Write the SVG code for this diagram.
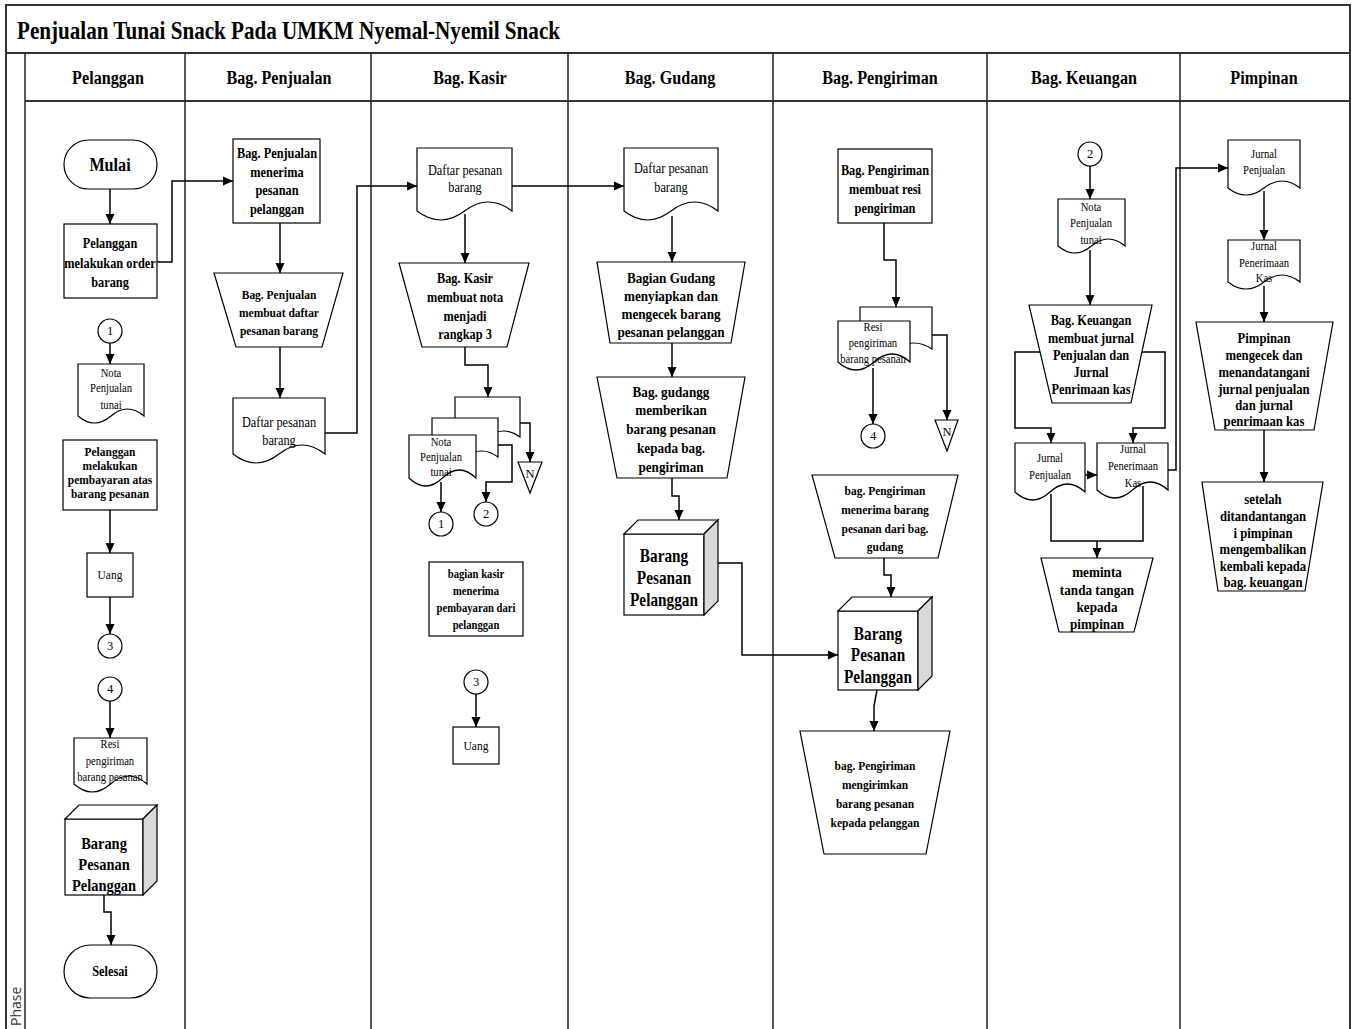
<svg xmlns="http://www.w3.org/2000/svg" width="1354" height="1029" viewBox="0 0 1354 1029">
  <style>
    .frame { fill: none; stroke: #333; stroke-width: 2; }
    .lane { fill: none; stroke: #222; stroke-width: 1.5; }
    .shape { fill: #fff; stroke: #000; stroke-width: 1.2; }
    .side { fill: #d9d9d9; stroke: #000; stroke-width: 1.2; }
    .cn { fill: none; stroke: #000; stroke-width: 1.5; }
    .ar { marker-end: url(#ah); }
    text { fill: #000; }
    .b { font-family: "Liberation Serif", "Times New Roman", serif; font-weight: bold; text-anchor: middle; }
    .r { font-family: "Liberation Serif", "Times New Roman", serif; text-anchor: middle; }
    .f12 { font-size: 12.5px; }
    .f13 { font-size: 13.5px; }
    .f14 { font-size: 14.5px; }
    .f15 { font-size: 15.5px; }
    .f17 { font-size: 17px; }
    .f18 { font-size: 18px; }
    .f19 { font-size: 19px; }
    .hd { font-size: 19px; }
  </style>
  <defs>
    <marker id="ah" markerWidth="10" markerHeight="10" refX="10" refY="5" orient="auto" markerUnits="userSpaceOnUse">
      <path d="M0,0.5 L10,5 L0,9.5 Z" fill="#000"/>
    </marker>
  </defs>

  <rect width="1354" height="1029" fill="#fff"/>

  <!-- pool frame, title band, lane header row -->
  <g id="pool">
    <path class="frame" d="M6,1029 V5 H1350 V1029"/>
    <path class="frame" d="M6,53 H1350"/>
    <path class="lane" d="M25,53 V1029"/>
    <path class="frame" d="M25,101 H1350" stroke="#555"/>
    <path class="lane" d="M185,53 V1029 M371,53 V1029 M568,53 V1029 M773,53 V1029 M987,53 V1029 M1180,53 V1029"/>
    <text class="b" x="17" y="39" style="font-size:25px;text-anchor:start" textLength="543" lengthAdjust="spacingAndGlyphs">Penjualan Tunai Snack Pada UMKM Nyemal-Nyemil Snack</text>
    <text transform="translate(21,1026) rotate(-90)" style="font-family:'Open Sans','DejaVu Sans',sans-serif;font-size:14px;fill:#333">Phase</text>
    <text class="b hd" transform="matrix(.85 0 0 1 108 0)"><tspan x="0" y="84">Pelanggan</tspan></text>
    <text class="b hd" transform="matrix(.85 0 0 1 279 0)"><tspan x="0" y="84">Bag. Penjualan</tspan></text>
    <text class="b hd" transform="matrix(.85 0 0 1 470 0)"><tspan x="0" y="84">Bag. Kasir</tspan></text>
    <text class="b hd" transform="matrix(.85 0 0 1 670 0)"><tspan x="0" y="84">Bag. Gudang</tspan></text>
    <text class="b hd" transform="matrix(.85 0 0 1 880 0)"><tspan x="0" y="84">Bag. Pengiriman</tspan></text>
    <text class="b hd" transform="matrix(.85 0 0 1 1084 0)"><tspan x="0" y="84">Bag. Keuangan</tspan></text>
    <text class="b hd" transform="matrix(.85 0 0 1 1264 0)"><tspan x="0" y="84">Pimpinan</tspan></text>
  </g>

  <!-- connectors -->
  <g id="connectors">
    <path class="cn ar" d="M110,189 V224"/>
    <path class="cn ar" d="M157,262 H172 V181 H233"/>
    <path class="cn ar" d="M110,343 V364"/>
    <path class="cn ar" d="M110,510 V553"/>
    <path class="cn ar" d="M110,597 V634"/>
    <path class="cn ar" d="M110,701 V738"/>
    <path class="cn ar" d="M104,895 V912 H111 V945"/>
    <path class="cn ar" d="M280,223 V273"/>
    <path class="cn ar" d="M280,347 V398"/>
    <path class="cn ar" d="M325,433 H357 V186 H417"/>
    <path class="cn ar" d="M512,186 H624"/>
    <path class="cn ar" d="M465,214 V263"/>
    <path class="cn ar" d="M465,347 V365 H488 V397"/>
    <path class="cn ar" d="M520,423 H530 V462"/>
    <path class="cn ar" d="M498,445 H512 V482 H486 V502"/>
    <path class="cn ar" d="M441,482 V512"/>
    <path class="cn ar" d="M476,694 V727"/>
    <path class="cn ar" d="M672,216 V262"/>
    <path class="cn ar" d="M672,343 V377"/>
    <path class="cn ar" d="M672,478 V496 H679 V520"/>
    <path class="cn ar" d="M718,563 H742 V655 H838"/>
    <path class="cn ar" d="M884,223 V260 H896 V307"/>
    <path class="cn ar" d="M932,335 H947 V420"/>
    <path class="cn ar" d="M873,368 V424"/>
    <path class="cn ar" d="M884,558 V575 H891 V597"/>
    <path class="cn ar" d="M877,690 L874,706 V731"/>
    <path class="cn ar" d="M1090,166 V199"/>
    <path class="cn ar" d="M1090,250 V305"/>
    <path class="cn ar" d="M1040,352 H1015 V428 H1051 V443"/>
    <path class="cn ar" d="M1141,352 H1165 V428 H1133 V443"/>
    <path class="cn ar" d="M1085,475 H1097"/>
    <path class="cn ar" d="M1168,470 H1176 V168 H1228"/>
    <path class="cn" d="M1051,494 V541 H1143 V486"/>
    <path class="cn ar" d="M1097,541 V558"/>
    <path class="cn ar" d="M1264,191 V240"/>
    <path class="cn ar" d="M1264,286 V322"/>
    <path class="cn ar" d="M1264,430 V482"/>
  </g>

  <!-- Pelanggan -->
  <g id="mulai">
    <rect class="shape" x="64" y="140" width="93" height="49" rx="24.5"/>
    <text class="b f19" transform="matrix(.85 0 0 1 110 0)"><tspan x="0" y="171">Mulai</tspan></text>
  </g>
  <g id="order">
    <rect class="shape" x="64" y="224" width="93" height="74"/>
    <text class="b f14" transform="matrix(.85 0 0 1 110 0)"><tspan x="0" y="248">Pelanggan</tspan><tspan x="0" y="268">melakukan order</tspan><tspan x="0" y="287">barang</tspan></text>
  </g>
  <g id="p-c1">
    <circle class="shape" cx="110" cy="331" r="12"/>
    <text class="r f12" x="110" y="335">1</text>
  </g>
  <g id="p-nota">
    <path class="shape" d="M78,364 H144 V416 Q127.5,402 111,416 T78,416 Z"/>
    <text class="r f12" transform="matrix(.85 0 0 1 111 0)"><tspan x="0" y="377">Nota</tspan><tspan x="0" y="392">Penjualan</tspan><tspan x="0" y="409">tunai</tspan></text>
  </g>
  <g id="bayar">
    <rect class="shape" x="63" y="440" width="94" height="70"/>
    <text class="b f13" transform="matrix(.85 0 0 1 110 0)"><tspan x="0" y="456">Pelanggan</tspan><tspan x="0" y="470">melakukan</tspan><tspan x="0" y="484">pembayaran atas</tspan><tspan x="0" y="498">barang pesanan</tspan></text>
  </g>
  <g id="p-uang">
    <rect class="shape" x="87" y="553" width="46" height="44"/>
    <text class="r f13" transform="matrix(.85 0 0 1 110 0)"><tspan x="0" y="579">Uang</tspan></text>
  </g>
  <g id="p-c3">
    <circle class="shape" cx="110" cy="646" r="12"/>
    <text class="r f12" x="110" y="650">3</text>
  </g>
  <g id="p-c4">
    <circle class="shape" cx="110" cy="689" r="12"/>
    <text class="r f12" x="110" y="693">4</text>
  </g>
  <g id="p-resi">
    <path class="shape" d="M74,738 H147 V784 Q128.75,768 110.5,784 T74,784 Z"/>
    <text class="r f12" transform="matrix(.85 0 0 1 110 0)"><tspan x="0" y="748">Resi</tspan><tspan x="0" y="765">pengiriman</tspan><tspan x="0" y="781">barang pesanan</tspan></text>
  </g>
  <g id="p-barang">
    <rect class="shape" x="65" y="819" width="78" height="76"/>
    <path class="shape" d="M65,819 L79,805 H157 L143,819 Z"/>
    <path class="side" d="M143,819 L157,805 V881 L143,895 Z"/>
    <text class="b f17" transform="matrix(.85 0 0 1 104 0)"><tspan x="0" y="849">Barang</tspan><tspan x="0" y="870">Pesanan</tspan><tspan x="0" y="891">Pelanggan</tspan></text>
  </g>
  <g id="selesai">
    <rect class="shape" x="64" y="945" width="93" height="53" rx="26.5"/>
    <text class="b f14" transform="matrix(.85 0 0 1 110 0)"><tspan x="0" y="976">Selesai</tspan></text>
  </g>

  <!-- Bag. Penjualan -->
  <g id="pj-terima">
    <rect class="shape" x="233" y="139" width="87" height="84"/>
    <text class="b f14" transform="matrix(.85 0 0 1 277 0)"><tspan x="0" y="158">Bag. Penjualan</tspan><tspan x="0" y="177">menerima</tspan><tspan x="0" y="195">pesanan</tspan><tspan x="0" y="214">pelanggan</tspan></text>
  </g>
  <g id="pj-buat">
    <path class="shape" d="M214,273 H343 L322,347 H236 Z"/>
    <text class="b f13" transform="matrix(.85 0 0 1 279 0)"><tspan x="0" y="299">Bag. Penjualan</tspan><tspan x="0" y="317">membuat daftar</tspan><tspan x="0" y="335">pesanan barang</tspan></text>
  </g>
  <g id="pj-daftar">
    <path class="shape" d="M233,398 H325 V454 Q302,436 279,454 T233,454 Z"/>
    <text class="r f14" transform="matrix(.85 0 0 1 279 0)"><tspan x="0" y="427">Daftar pesanan</tspan><tspan x="0" y="445">barang</tspan></text>
  </g>

  <!-- Bag. Kasir -->
  <g id="ks-daftar">
    <path class="shape" d="M417,148 H512 V211 Q488.25,193 464.5,211 T417,211 Z"/>
    <text class="r f14" transform="matrix(.85 0 0 1 465 0)"><tspan x="0" y="175">Daftar pesanan</tspan><tspan x="0" y="192">barang</tspan></text>
  </g>
  <g id="ks-nota">
    <path class="shape" d="M399,263 H529 L507,347 H422 Z"/>
    <text class="b f14" transform="matrix(.85 0 0 1 465 0)"><tspan x="0" y="283">Bag. Kasir</tspan><tspan x="0" y="302">membuat nota</tspan><tspan x="0" y="321">menjadi</tspan><tspan x="0" y="339">rangkap 3</tspan></text>
  </g>
  <g id="ks-rangkap">
    <path class="shape" d="M455,397 H520 V437 Q503.75,425 487.5,437 T455,437 Z"/>
    <path class="shape" d="M432,418 H498 V457 Q481.5,445 465,457 T432,457 Z"/>
    <path class="shape" d="M409,435 H476 V478 Q459.25,462 442.5,478 T409,478 Z"/>
    <text class="r f12" transform="matrix(.85 0 0 1 441 0)"><tspan x="0" y="446">Nota</tspan><tspan x="0" y="461">Penjualan</tspan><tspan x="0" y="476">tunai</tspan></text>
  </g>
  <g id="ks-arsip">
    <path class="shape" d="M518,462 H542 L530,493 Z"/>
    <text class="r f12" x="530" y="478">N</text>
  </g>
  <g id="ks-c1">
    <circle class="shape" cx="441" cy="524" r="12"/>
    <text class="r f12" x="441" y="528">1</text>
  </g>
  <g id="ks-c2">
    <circle class="shape" cx="486" cy="514" r="12"/>
    <text class="r f12" x="486" y="518">2</text>
  </g>
  <g id="ks-terima">
    <rect class="shape" x="429" y="562" width="94" height="74"/>
    <text class="b f12" transform="matrix(.85 0 0 1 476 0)"><tspan x="0" y="578">bagian kasir</tspan><tspan x="0" y="595">menerima</tspan><tspan x="0" y="612">pembayaran dari</tspan><tspan x="0" y="629">pelanggan</tspan></text>
  </g>
  <g id="ks-c3">
    <circle class="shape" cx="476" cy="682" r="12"/>
    <text class="r f12" x="476" y="686">3</text>
  </g>
  <g id="ks-uang">
    <rect class="shape" x="453" y="727" width="46" height="37"/>
    <text class="r f13" transform="matrix(.85 0 0 1 476 0)"><tspan x="0" y="750">Uang</tspan></text>
  </g>

  <!-- Bag. Gudang -->
  <g id="gd-daftar">
    <path class="shape" d="M624,148 H718 V211 Q694.5,193 671,211 T624,211 Z"/>
    <text class="r f14" transform="matrix(.85 0 0 1 671 0)"><tspan x="0" y="173">Daftar pesanan</tspan><tspan x="0" y="192">barang</tspan></text>
  </g>
  <g id="gd-siapkan">
    <path class="shape" d="M597,262 H745 L731,343 H610 Z"/>
    <text class="b f15" transform="matrix(.85 0 0 1 671 0)"><tspan x="0" y="283">Bagian Gudang</tspan><tspan x="0" y="301">menyiapkan dan</tspan><tspan x="0" y="319">mengecek barang</tspan><tspan x="0" y="337">pesanan pelanggan</tspan></text>
  </g>
  <g id="gd-beri">
    <path class="shape" d="M597,377 H745 L727,478 H617 Z"/>
    <text class="b f15" transform="matrix(.85 0 0 1 671 0)"><tspan x="0" y="397">Bag. gudangg</tspan><tspan x="0" y="415">memberikan</tspan><tspan x="0" y="434">barang pesanan</tspan><tspan x="0" y="453">kepada bag.</tspan><tspan x="0" y="472">pengiriman</tspan></text>
  </g>
  <g id="gd-barang">
    <rect class="shape" x="624" y="534" width="80" height="81"/>
    <path class="shape" d="M624,534 L638,520 H718 L704,534 Z"/>
    <path class="side" d="M704,534 L718,520 V601 L704,615 Z"/>
    <text class="b f18" transform="matrix(.85 0 0 1 664 0)"><tspan x="0" y="562">Barang</tspan><tspan x="0" y="584">Pesanan</tspan><tspan x="0" y="606">Pelanggan</tspan></text>
  </g>

  <!-- Bag. Pengiriman -->
  <g id="kr-resi">
    <rect class="shape" x="838" y="149" width="94" height="74"/>
    <text class="b f14" transform="matrix(.85 0 0 1 885 0)"><tspan x="0" y="175">Bag. Pengiriman</tspan><tspan x="0" y="194">membuat resi</tspan><tspan x="0" y="213">pengiriman</tspan></text>
  </g>
  <g id="kr-dokresi">
    <path class="shape" d="M860,307 H932 V349 Q914,337 896,349 T860,349 Z"/>
    <path class="shape" d="M838,321 H910 V362 Q892,346 874,362 T838,362 Z"/>
    <text class="r f12" transform="matrix(.85 0 0 1 873 0)"><tspan x="0" y="331">Resi</tspan><tspan x="0" y="347">pengiriman</tspan><tspan x="0" y="363">barang pesanan</tspan></text>
  </g>
  <g id="kr-arsip">
    <path class="shape" d="M935,420 H958 L947,451 Z"/>
    <text class="r f12" x="947" y="436">N</text>
  </g>
  <g id="kr-c4">
    <circle class="shape" cx="873" cy="436" r="12"/>
    <text class="r f12" x="873" y="440">4</text>
  </g>
  <g id="kr-terima">
    <path class="shape" d="M812,475 H958 L938,558 H835 Z"/>
    <text class="b f13" transform="matrix(.85 0 0 1 885 0)"><tspan x="0" y="495">bag. Pengiriman</tspan><tspan x="0" y="514">menerima barang</tspan><tspan x="0" y="533">pesanan dari bag.</tspan><tspan x="0" y="551">gudang</tspan></text>
  </g>
  <g id="kr-barang">
    <rect class="shape" x="838" y="611" width="80" height="79"/>
    <path class="shape" d="M838,611 L852,597 H932 L918,611 Z"/>
    <path class="side" d="M918,611 L932,597 V676 L918,690 Z"/>
    <text class="b f18" transform="matrix(.85 0 0 1 878 0)"><tspan x="0" y="640">Barang</tspan><tspan x="0" y="661">Pesanan</tspan><tspan x="0" y="683">Pelanggan</tspan></text>
  </g>
  <g id="kr-kirim">
    <path class="shape" d="M800,731 H950 L926,854 H824 Z"/>
    <text class="b f13" transform="matrix(.85 0 0 1 875 0)"><tspan x="0" y="770">bag. Pengiriman</tspan><tspan x="0" y="789">mengirimkan</tspan><tspan x="0" y="808">barang pesanan</tspan><tspan x="0" y="827">kepada pelanggan</tspan></text>
  </g>

  <!-- Bag. Keuangan -->
  <g id="ku-c2">
    <circle class="shape" cx="1090" cy="154" r="12"/>
    <text class="r f12" x="1090" y="158">2</text>
  </g>
  <g id="ku-nota">
    <path class="shape" d="M1058,199 H1125 V246 Q1108.25,232 1091.5,246 T1058,246 Z"/>
    <text class="r f12" transform="matrix(.85 0 0 1 1091 0)"><tspan x="0" y="211">Nota</tspan><tspan x="0" y="227">Penjualan</tspan><tspan x="0" y="244">tunai</tspan></text>
  </g>
  <g id="ku-jurnal">
    <path class="shape" d="M1029,305 H1152 L1131,403 H1052 Z"/>
    <text class="b f14" transform="matrix(.85 0 0 1 1091 0)"><tspan x="0" y="325">Bag. Keuangan</tspan><tspan x="0" y="343">membuat jurnal</tspan><tspan x="0" y="360">Penjualan dan</tspan><tspan x="0" y="377">Jurnal</tspan><tspan x="0" y="394">Penrimaan kas</tspan></text>
  </g>
  <g id="ku-jpenjualan">
    <path class="shape" d="M1015,443 H1085 V492 Q1067.5,476 1050,492 T1015,492 Z"/>
    <text class="r f12" transform="matrix(.85 0 0 1 1050 0)"><tspan x="0" y="462">Jurnal</tspan><tspan x="0" y="479">Penjualan</tspan></text>
  </g>
  <g id="ku-jpenerimaan">
    <path class="shape" d="M1097,443 H1168 V490 Q1150.25,474 1132.5,490 T1097,490 Z"/>
    <text class="r f12" transform="matrix(.85 0 0 1 1133 0)"><tspan x="0" y="453">Jurnal</tspan><tspan x="0" y="470">Penerimaan</tspan><tspan x="0" y="487">Kas</tspan></text>
  </g>
  <g id="ku-ttd">
    <path class="shape" d="M1041,558 H1153 L1134,632 H1059 Z"/>
    <text class="b f15" transform="matrix(.85 0 0 1 1097 0)"><tspan x="0" y="577">meminta</tspan><tspan x="0" y="595">tanda tangan</tspan><tspan x="0" y="612">kepada</tspan><tspan x="0" y="629">pimpinan</tspan></text>
  </g>

  <!-- Pimpinan -->
  <g id="pm-jpenjualan">
    <path class="shape" d="M1228,140 H1300 V188 Q1282,174 1264,188 T1228,188 Z"/>
    <text class="r f12" transform="matrix(.85 0 0 1 1264 0)"><tspan x="0" y="158">Jurnal</tspan><tspan x="0" y="174">Penjualan</tspan></text>
  </g>
  <g id="pm-jpenerimaan">
    <path class="shape" d="M1228,240 H1300 V282 Q1282,268 1264,282 T1228,282 Z"/>
    <text class="r f12" transform="matrix(.85 0 0 1 1264 0)"><tspan x="0" y="250">Jurnal</tspan><tspan x="0" y="267">Penerimaan</tspan><tspan x="0" y="282">Kas</tspan></text>
  </g>
  <g id="pm-cek">
    <path class="shape" d="M1196,322 H1333 L1314,430 H1215 Z"/>
    <text class="b f15" transform="matrix(.82 0 0 1 1264 0)"><tspan x="0" y="343">Pimpinan</tspan><tspan x="0" y="360">mengecek dan</tspan><tspan x="0" y="377">menandatangani</tspan><tspan x="0" y="394">jurnal penjualan</tspan><tspan x="0" y="410">dan jurnal</tspan><tspan x="0" y="426">penrimaan kas</tspan></text>
  </g>
  <g id="pm-kembali">
    <path class="shape" d="M1202,482 H1323 L1305,591 H1218 Z"/>
    <text class="b f15" transform="matrix(.82 0 0 1 1263 0)"><tspan x="0" y="504">setelah</tspan><tspan x="0" y="521">ditandantangan</tspan><tspan x="0" y="538">i pimpinan</tspan><tspan x="0" y="554">mengembalikan</tspan><tspan x="0" y="571">kembali kepada</tspan><tspan x="0" y="587">bag. keuangan</tspan></text>
  </g>
</svg>
